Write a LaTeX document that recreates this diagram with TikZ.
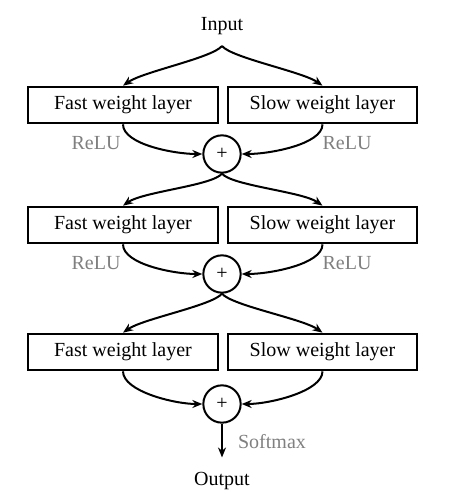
\documentclass[tikz,border=0pt]{standalone}
\usepackage{fontspec}
\setmainfont{Liberation Serif}
\usetikzlibrary{arrows.meta,positioning}

\begin{document}
\begin{tikzpicture}[x=0.75pt,y=-0.75pt,line width=1.5pt,>={Stealth[length=7.5pt,width=6pt]},
        every node/.style={font=\fontsize{15}{18}\selectfont},
        layerbox/.style={draw,rectangle,minimum width=142pt,minimum height=27.5pt,inner sep=0pt},
        addnode/.style={draw,circle,minimum size=28pt,inner sep=0pt},
        actlabel/.style={text=gray}]
    \useasboundingbox (0,0) rectangle (453,500);
    \node (input) at (222,26) {Input};
    \coordinate (split0) at (222,46);
    % three fast/slow stages
    \foreach \r/\yb/\yc/\src in {1/105/154/split0,2/225/274/add1.south,3/352/404/add2.south}{
        \node[layerbox] (fast\r) at (123,\yb) {Fast weight layer};
        \node[layerbox] (slow\r) at (322.5,\yb) {Slow weight layer};
        \node[addnode] (add\r) at (222,\yc) {+};
        \draw [->] (\src) .. controls +(-10,12) and +(20,-14) .. (fast\r.north);
        \draw [->] (\src) .. controls +(10,12) and +(-20,-14) .. (slow\r.north);
        \draw [->] (fast\r.south) .. controls +(0,20) and +(-28,0) .. (add\r.west);
        \draw [->] (slow\r.south) .. controls +(0,20) and +(28,0) .. (add\r.east);
        \ifnum\r<3
            \node[actlabel] (reluf\r) at (96,\yb+38) {ReLU};
            \node[actlabel] (relus\r) at (347,\yb+38) {ReLU};
        \fi
    }
    \node (output) at (222,481) {Output};
    \node[actlabel] (softmax) at (272,442) {Softmax};
    \draw [->, shorten >=7pt] (add3.south) -- (output.north);
\end{tikzpicture}
\end{document}
